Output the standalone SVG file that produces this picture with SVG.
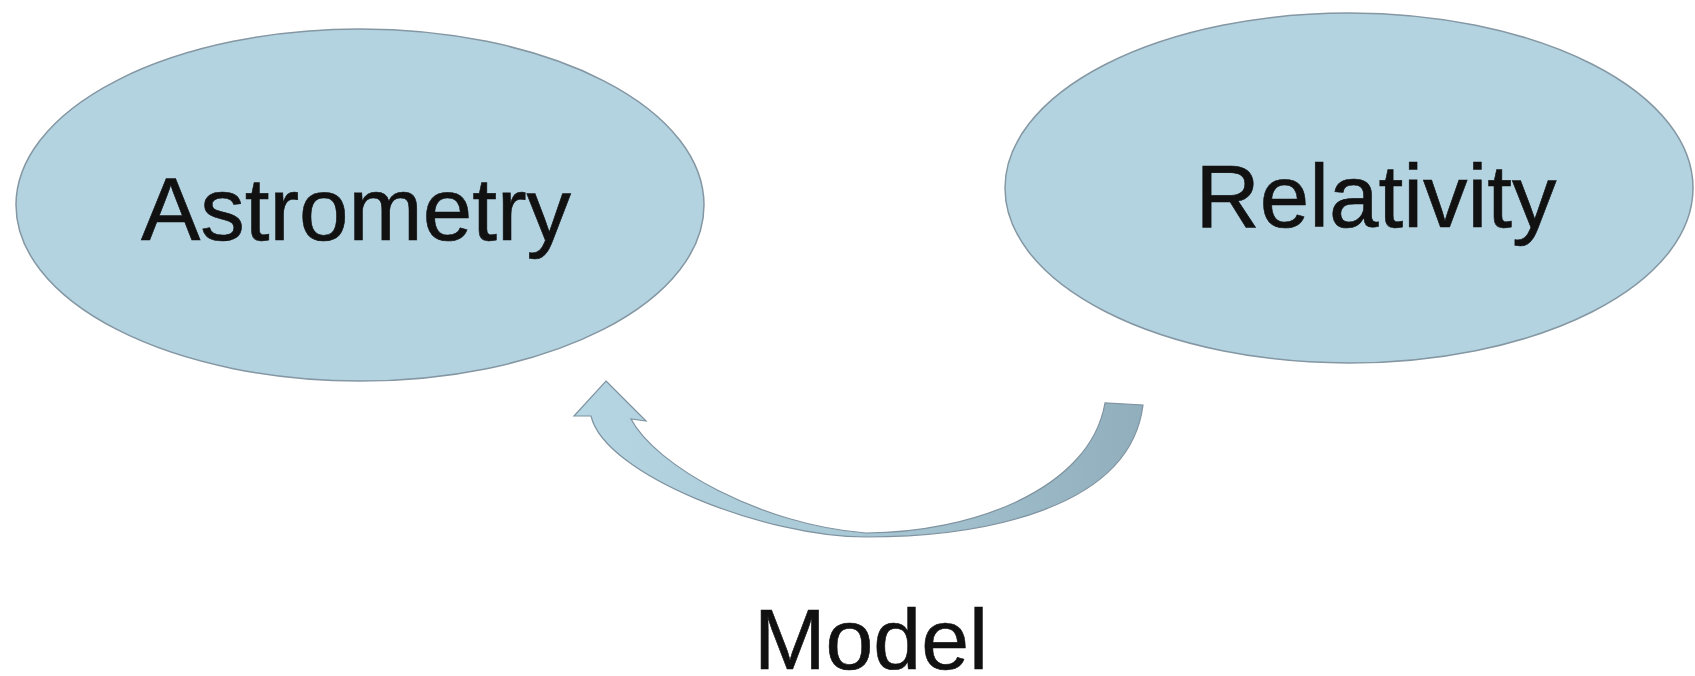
<svg xmlns="http://www.w3.org/2000/svg" width="1695" height="676" viewBox="0 0 1695 676">
  <style>
    .node { fill: #b4d3e1; stroke: #8497a3; stroke-width: 1.5; }
    .label { font-family: "Liberation Sans", Arial, sans-serif; fill: #111; text-anchor: middle; stroke: #111; stroke-width: 0.6; }
  </style>
  <defs>
    <linearGradient id="arcFill" x1="574" y1="0" x2="1143" y2="0" gradientUnits="userSpaceOnUse">
      <stop offset="0" stop-color="#b6d6e4"/>
      <stop offset="0.5" stop-color="#a9c8d6"/>
      <stop offset="1" stop-color="#90aebc"/>
    </linearGradient>
  </defs>
  <rect width="1695" height="676" fill="#ffffff"/>

  <g id="astrometry">
    <ellipse class="node" cx="360" cy="205" rx="344" ry="176"/>
    <text class="label" x="356" y="240" font-size="89">Astrometry</text>
  </g>

  <g id="relativity">
    <ellipse class="node" cx="1349" cy="188" rx="344" ry="175"/>
    <text class="label" x="1376" y="227" font-size="89">Relativity</text>
  </g>

  <!-- curved block arrow from Relativity back to Astrometry -->
  <g id="connectors">
    <path d="M 606 381 L 646 421 L 631 419 C 655 465 760 525 866 533 C 970 533 1090 490 1105 403 L 1143 405 C 1130 510 980 537 866 537 C 765 537 605 475 591 416 L 574 416 Z"
          fill="url(#arcFill)" stroke="#7f93a0" stroke-width="1.2" stroke-linejoin="miter"/>
  </g>

  <g id="model-label">
    <text class="label" x="871" y="669" font-size="86">Model</text>
  </g>
</svg>
